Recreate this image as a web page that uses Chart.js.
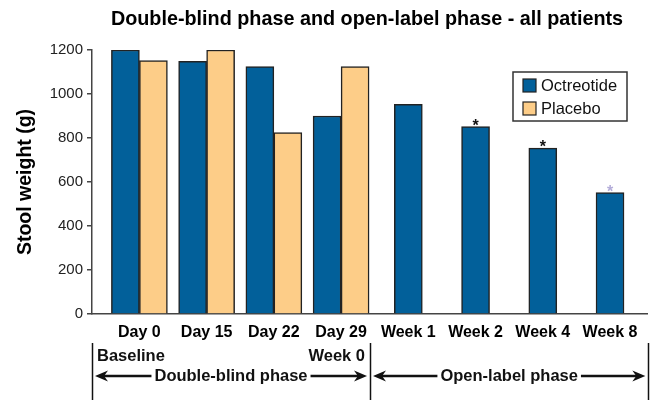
<!DOCTYPE html>
<html>
<head>
<meta charset="utf-8">
<script src="https://cdn.jsdelivr.net/npm/chart.js@4.4.1/dist/chart.umd.min.js"></script>
<style>
  html, body { margin: 0; padding: 0; background: #fff; }
</style>
</head>
<body>
<canvas id="myChart" width="661" height="400"></canvas>
<script>
// 데이터
const categories = ['Day 0', 'Day 15', 'Day 22', 'Day 29', 'Week 1', 'Week 2', 'Week 4', 'Week 8'];
const octreotide = [1200, 1148, 1125, 900, 953, 852, 754, 552];
const placebo = [1152, 1200, 825, 1125, null, null, null, null];
const starred = [false, false, false, false, false, true, true, true];
const yTickStep = 200;
const yMax = 1200;

const chartTitle = 'Double-blind phase and open-label phase - all patients';
const phases = [
  { from: -0.705, to: 3.43, text: 'Double-blind phase', startNote: 'Baseline', endNote: 'Week 0' },
  { from: 3.43, to: 7.57, text: 'Open-label phase' }
];

const FONT = "'Liberation Sans', Arial, Helvetica, sans-serif";
Chart.defaults.font.family = FONT;
Chart.defaults.color = '#111';

const BLUE = '#02609a';
const ORANGE = '#fdcd88';
const EDGE = '#222';

// 제목, 범례, 별표, 아래 구간 표시
const extras = {
  id: 'extras',
  afterDraw(chart) {
    const ctx = chart.ctx;
    const x = chart.scales.x;
    ctx.save();

    // title
    ctx.fillStyle = '#000';
    ctx.font = 'bold 19.8px ' + FONT;
    ctx.textAlign = 'center';
    ctx.textBaseline = 'alphabetic';
    ctx.fillText(chartTitle, 367, 24.5);

    // legend box
    const lx = 513, ly = 72, lw = 114, lh = 49;
    ctx.strokeStyle = '#333';
    ctx.lineWidth = 1.5;
    ctx.strokeRect(lx, ly, lw, lh);
    ctx.font = '16.5px ' + FONT;
    ctx.textAlign = 'left';
    ctx.textBaseline = 'middle';
    chart.data.datasets.forEach((ds, i) => {
      const cy = ly + 13.5 + i * 23;
      ctx.fillStyle = ds.backgroundColor;
      ctx.fillRect(lx + 10, cy - 6.5, 13, 13);
      ctx.strokeStyle = EDGE;
      ctx.lineWidth = 1.2;
      ctx.strokeRect(lx + 10, cy - 6.5, 13, 13);
      ctx.fillStyle = '#111';
      ctx.fillText(ds.label, lx + 28, cy + 1);
    });

    // asterisks above bars
    const meta = chart.getDatasetMeta(0);
    ctx.font = 'bold 16px ' + FONT;
    ctx.textAlign = 'center';
    ctx.textBaseline = 'alphabetic';
    starred.forEach((s, i) => {
      if (!s) return;
      const bar = meta.data[i];
      ctx.fillStyle = i === starred.length - 1 ? '#b3acd9' : '#111';
      ctx.fillText('*', bar.x, bar.y + 4);
    });

    // phase spans below axis
    const top = 343, bottom = 400, noteY = 356, rowY = 376;
    ctx.strokeStyle = '#111';
    ctx.fillStyle = '#111';
    const bounds = [phases[0].from, phases[0].to, phases[1].to];
    bounds.forEach(v => {
      const px = Math.round(x.getPixelForValue(v)) + 0.5;
      ctx.lineWidth = 1.5;
      ctx.beginPath();
      ctx.moveTo(px, top);
      ctx.lineTo(px, bottom);
      ctx.stroke();
    });

    ctx.font = 'bold 16.5px ' + FONT;
    phases.forEach(p => {
      const x1 = x.getPixelForValue(p.from);
      const x2 = x.getPixelForValue(p.to);
      if (p.startNote) {
        ctx.textAlign = 'left';
        ctx.textBaseline = 'middle';
        ctx.fillText(p.startNote, x1 + 5, noteY);
      }
      if (p.endNote) {
        ctx.textAlign = 'right';
        ctx.textBaseline = 'middle';
        ctx.fillText(p.endNote, x2 - 5, noteY);
      }
      const cx = (x1 + x2) / 2;
      const w = ctx.measureText(p.text).width;
      ctx.textAlign = 'center';
      ctx.textBaseline = 'middle';
      ctx.fillText(p.text, cx, rowY);
      arrow(ctx, cx - w / 2 - 3, x1 + 3, rowY);
      arrow(ctx, cx + w / 2 + 3, x2 - 3, rowY);
    });

    ctx.restore();
  }
};

function arrow(ctx, from, to, y) {
  const dir = to > from ? 1 : -1;
  const head = 13;
  ctx.lineWidth = 2.6;
  ctx.beginPath();
  ctx.moveTo(from, y);
  ctx.lineTo(to - dir * head * 0.6, y);
  ctx.stroke();
  ctx.beginPath();
  ctx.moveTo(to, y);
  ctx.lineTo(to - dir * head, y - 5.5);
  ctx.lineTo(to - dir * head * 0.7, y);
  ctx.lineTo(to - dir * head, y + 5.5);
  ctx.closePath();
  ctx.fill();
}

const chartArea = document.getElementById('myChart').getContext('2d');

const myChart = new Chart(chartArea, {
  type: 'bar',
  data: {
    datasets: [
      {
        label: 'Octreotide',
        data: octreotide.map((v, i) => ({ x: i, y: v })),
        backgroundColor: BLUE,
        borderColor: EDGE,
        borderWidth: 1.5,
        barThickness: 28,
        skipNull: true
      },
      {
        label: 'Placebo',
        data: placebo.map((v, i) => ({ x: i, y: v })),
        backgroundColor: ORANGE,
        borderColor: EDGE,
        borderWidth: 1.5,
        barThickness: 28,
        skipNull: true
      }
    ]
  },
  options: {
    responsive: false,
    animation: false,
    layout: { padding: { top: 50, right: 14, left: 0, bottom: 0 } },
    plugins: {
      legend: { display: false },
      title: { display: false },
      tooltip: { enabled: false }
    },
    scales: {
      x: {
        type: 'linear',
        bounds: 'data',
        offset: false,
        min: -0.705,
        max: 7.55,
        grid: { display: false, drawTicks: false, offset: false },
        border: { display: true, color: '#444', width: 1.5 },
        ticks: {
          autoSkip: false,
          maxRotation: 0,
          padding: 9,
          color: '#000',
          font: { size: 16, weight: 'bold' },
          callback: (v) => categories[v]
        },
        afterBuildTicks: (s) => { s.ticks = categories.map((c, i) => ({ value: i })); },
        afterFit: (s) => { s.height = 86; }
      },
      y: {
        min: 0,
        max: yMax,
        grid: { drawOnChartArea: false, drawTicks: true, tickLength: 5, color: '#444', lineWidth: 1.5 },
        border: { display: true, color: '#444', width: 1.5 },
        ticks: {
          stepSize: yTickStep,
          padding: 4,
          color: '#222',
          font: { size: 15 },
          callback: (v) => String(v)
        },
        title: {
          display: true,
          text: 'Stool weight (g)',
          color: '#000',
          font: { size: 19.5, weight: 'bold' },
          padding: { top: 14, bottom: 0 }
        },
        afterFit: (s) => { s.width = 92; }
      }
    }
  },
  plugins: [extras]
});
</script>
</body>
</html>
